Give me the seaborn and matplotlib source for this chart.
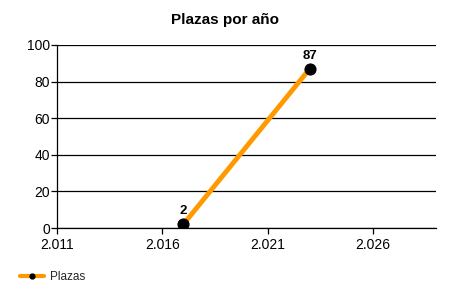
import matplotlib
matplotlib.use("Agg")
import matplotlib.pyplot as plt
import seaborn as sns
import pandas as pd
from matplotlib.ticker import FuncFormatter, MultipleLocator
from matplotlib.lines import Line2D

years = [2017, 2023]
plazas = [2, 87]
x_ticks = [2011, 2016, 2021, 2026]
series_name = "Plazas"
title = "Plazas por año"

sns.set_theme(style="white")
plt.rcParams["font.family"] = ["Liberation Sans", "DejaVu Sans"]

df = pd.DataFrame({"year": years, "plazas": plazas})

fig = plt.figure(figsize=(4.5, 3.0), dpi=100)
ax = fig.add_axes([57 / 450, 72 / 300, 379 / 450, 183 / 300])

sns.lineplot(data=df, x="year", y="plazas", ax=ax, color="#FF9900",
             linewidth=3.5, zorder=2)
ax.scatter(df["year"], df["plazas"], s=60, color="black", zorder=3)

for x, y in zip(years, plazas):
    ax.annotate(str(y), (x, y), xytext=(0, 5), textcoords="offset points",
                ha="center", va="bottom", fontsize=9.5, fontweight="bold",
                color="black")

ax.set_xlim(2011, 2029)
ax.set_ylim(0, 100)
ax.set_xticks(x_ticks)
ax.yaxis.set_major_locator(MultipleLocator(20))
ax.xaxis.set_major_formatter(FuncFormatter(lambda v, p: f"{int(v):,}".replace(",", ".")))
ax.yaxis.grid(True, color="black", linewidth=0.9)
ax.xaxis.grid(False)
ax.set_axisbelow(True)

for side in ["top", "right"]:
    ax.spines[side].set_visible(False)
for side in ["left", "bottom"]:
    ax.spines[side].set_color("black")
    ax.spines[side].set_linewidth(0.9)

ax.tick_params(axis="both", which="major", direction="out", length=4,
               width=0.9, color="black", labelsize=10, labelcolor="black",
               bottom=True, left=True)
ax.tick_params(axis="y", pad=1)
ax.tick_params(axis="x", pad=3)
ax.set_xlabel("")
ax.set_ylabel("")

fig.text(225 / 450, 1 - 20 / 300, title, ha="center", va="center",
         fontsize=11, fontweight="bold", color="black")

handle = Line2D([0], [0], color="#FF9900", linewidth=3, marker="o",
                markersize=3.5, markerfacecolor="black",
                markeredgecolor="black")
fig.legend([handle], [series_name], loc="center left",
           bbox_to_anchor=(20 / 450, 1 - 277 / 300), frameon=False,
           fontsize=8.5, handlelength=2.0, handletextpad=0.5,
           borderpad=0, borderaxespad=0)

fig.savefig("out.png", dpi=100)
